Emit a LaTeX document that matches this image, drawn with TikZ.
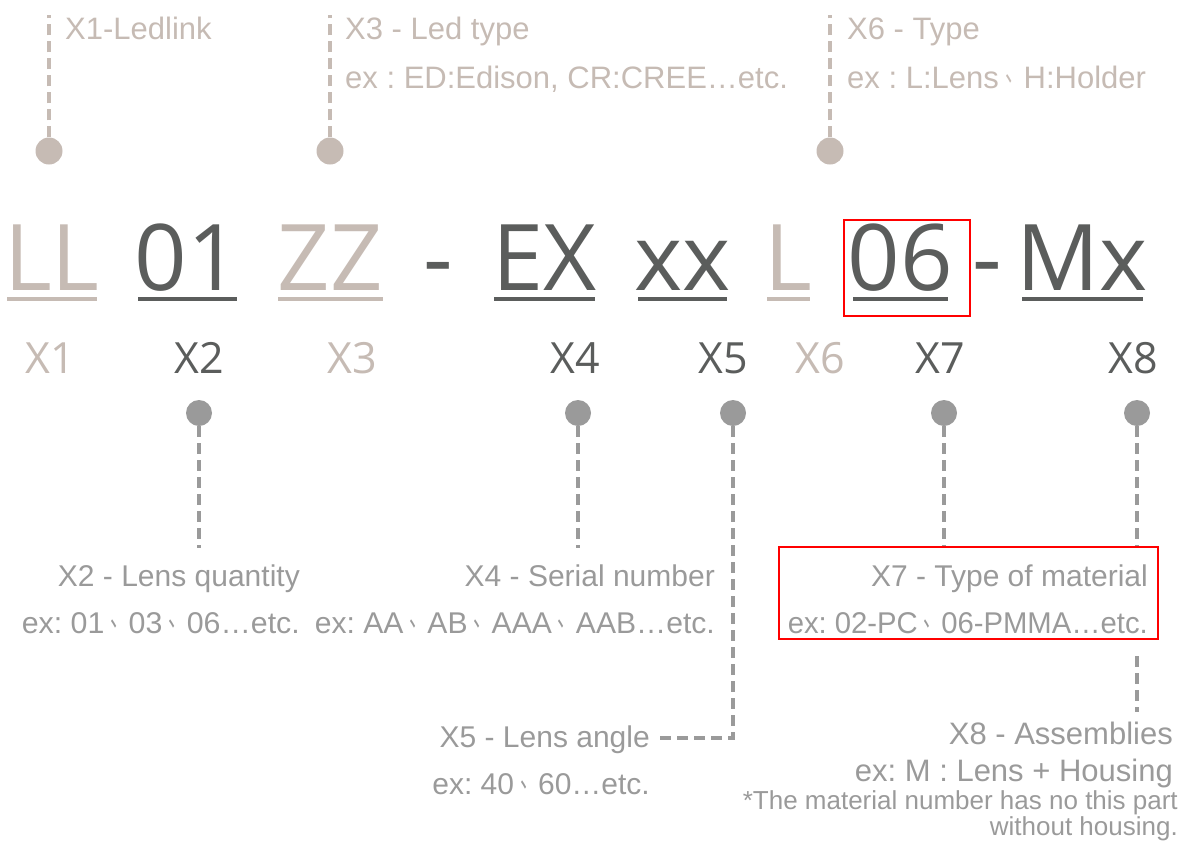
\documentclass[tikz,border=0pt]{standalone}
\usepackage{fontspec}
\setmainfont{Liberation Sans}
\newfontfamily\codefont{Open Sans}
\newfontfamily\cjk{Noto Sans CJK SC}
\usetikzlibrary{calc}
\definecolor{beige}{HTML}{C6BBB4}
\definecolor{dark}{HTML}{5B5D5C}
\definecolor{midgray}{HTML}{9A9A9A}
\newcommand{\tcomma}{\hspace{0.2em}\scalebox{0.6}[1]{\raisebox{0.22em}{\cjk 、}}}
\newcommand{\squeeze}[2]{\resizebox{#1}{\height}{#2}}
\frenchspacing
\begin{document}
\begin{tikzpicture}[x=1pt,y=-1pt,
  code/.style={font=\codefont\fontsize{92}{92}\selectfont, inner sep=0pt, anchor=base},
  lab/.style={font=\codefont\fontsize{43}{43}\selectfont, inner sep=0pt, anchor=base},
  toptxt/.style={font=\fontsize{31}{36}\selectfont, text=beige, inner sep=0pt, anchor=base west},
  bottxt/.style={font=\fontsize{30}{36}\selectfont, text=midgray, inner sep=0pt, anchor=base east},
  smalltxt/.style={font=\fontsize{26}{30}\selectfont, text=midgray, inner sep=0pt, anchor=base east},
  dline/.style={line width=3.2pt, dash pattern=on 11pt off 6pt},
  uline/.style={line width=4pt},
  topdot/.style={circle, fill=beige, minimum size=27pt, inner sep=0pt},
  botdot/.style={circle, fill=midgray, minimum size=26pt, inner sep=0pt},
  redbox/.style={draw=red, line width=2pt, inner sep=0pt}
]
\useasboundingbox (0,0) rectangle (1188,841);

% ---------- top part ----------
\node[topdot] (u1) at (49,151) {};
\node[topdot] (u3) at (330,151) {};
\node[topdot] (u6) at (830,151) {};
\coordinate (e1) at (49,15);
\coordinate (e3) at (330,15);
\coordinate (e6) at (830,15);
\draw[dline, beige] (u1) -- (e1);
\draw[dline, beige] (u3) -- (e3);
\draw[dline, beige] (u6) -- (e6);

\node[toptxt] (t1) at (65,39) {X1-Ledlink};
\node[toptxt] (t3) at (345,39) {X3 - Led type};
\node[toptxt] (t3b) at (345,88) {ex : ED:Edison, CR:CREE…etc.};
\node[toptxt] (t6) at (847,39) {X6 - Type};
\node[toptxt] (t6b) at (847,88) {ex : L:Lens\tcomma H:Holder};

% ---------- code ----------
\node[code, text=beige] (cLL) at (52,290) {LL};
\node[code, text=dark] (c01) at (187.5,290) {01};
\node[code, text=beige] (cZZ) at (330.5,290) {ZZ};
\node[code, text=dark] (cd1) at (438,290) {-};
\node[code, text=dark] (cEX) at (544.5,290) {EX};
\node[code, text=dark] (cxx) at (682.5,290) {xx};
\node[code, text=beige] (cL) at (788.5,290) {L};
\node[code, text=dark] (c06) at (900,290) {06};
\node[code, text=dark] (cd2) at (987,290) {-};
\node[code, text=dark] (cMx) at (1082.5,290) {Mx};

\draw[uline, beige] (7,299) -- (97,299);
\draw[uline, dark] (138,299) -- (237,299);
\draw[uline, beige] (278,299) -- (383,299);
\draw[uline, dark] (494,299) -- (595,299);
\draw[uline, dark] (638,299) -- (727,299);
\draw[uline, beige] (767,299) -- (810,299);
\draw[uline, dark] (853,299) -- (948,299);
\draw[uline, dark] (1022,299) -- (1143,299);

\node[redbox, minimum width=126pt, minimum height=96pt] (box06) at (907,268) {};

% ---------- labels ----------
\node[lab, text=beige] (l1) at (50,373) {X1};
\node[lab, text=dark] (l2) at (199,373) {X2};
\node[lab, text=beige] (l3) at (352,373) {X3};
\node[lab, text=dark] (l4) at (575,373) {X4};
\node[lab, text=dark] (l5) at (723,373) {X5};
\node[lab, text=beige] (l6) at (820,373) {X6};
\node[lab, text=dark] (l7) at (940,373) {X7};
\node[lab, text=dark] (l8) at (1133,373) {X8};

% ---------- bottom part ----------
\node[botdot] (d2) at (199,413) {};
\node[botdot] (d4) at (578,413) {};
\node[botdot] (d5) at (733,413) {};
\node[botdot] (d7) at (944,413) {};
\node[botdot] (d8) at (1137,413) {};

\node[redbox, minimum width=379pt, minimum height=92pt] (box7) at (968.5,593) {};

\node[bottxt] (b2) at (300,586) {X2 - Lens quantity};
\node[bottxt] (b2e) at (300,633) {\squeeze{278pt}{ex: 01\tcomma 03\tcomma 06…etc.}};
\node[bottxt] (b4) at (715,586) {X4 - Serial number};
\node[bottxt] (b4e) at (715,633) {\squeeze{400pt}{ex: AA\tcomma AB\tcomma AAA\tcomma AAB…etc.}};
\node[bottxt] (b7) at (1148,586) {X7 - Type of material};
\node[bottxt] (b7e) at (1148,633) {\squeeze{360pt}{ex: 02-PC\tcomma 06-PMMA…etc.}};
\node[bottxt] (b5) at (650,747) {X5 - Lens angle};
\node[bottxt] (b5e) at (650,794) {ex: 40\tcomma 60…etc.};
\node[bottxt, font=\fontsize{31}{36}\selectfont] (b8) at (1173,744) {X8 - Assemblies};
\node[bottxt, font=\fontsize{31}{36}\selectfont] (b8e) at (1173,781) {ex: M : Lens + Housing};
\node[smalltxt] (b8n) at (1178,809) {*The material number has no this part};
\node[smalltxt] (b8w) at (1178,835) {without housing.};

\coordinate (f2) at (199,548);
\coordinate (f4) at (578,548);
\coordinate (c5) at (733,738);
\coordinate (f5) at (654,738);
\coordinate (f8) at (1137,712);

\draw[dline, midgray] (d2) -- (f2);
\draw[dline, midgray] (d4) -- (f4);
\draw[dline, midgray] (d5) -- (c5) -- (f5);
\draw[dline, midgray] (d7) -- (d7 |- box7.north);
\draw[dline, midgray] (d8) -- (d8 |- box7.north);
\draw[dline, midgray] ($(d8 |- box7.south)+(0,16)$) -- (f8);
\end{tikzpicture}
\end{document}
